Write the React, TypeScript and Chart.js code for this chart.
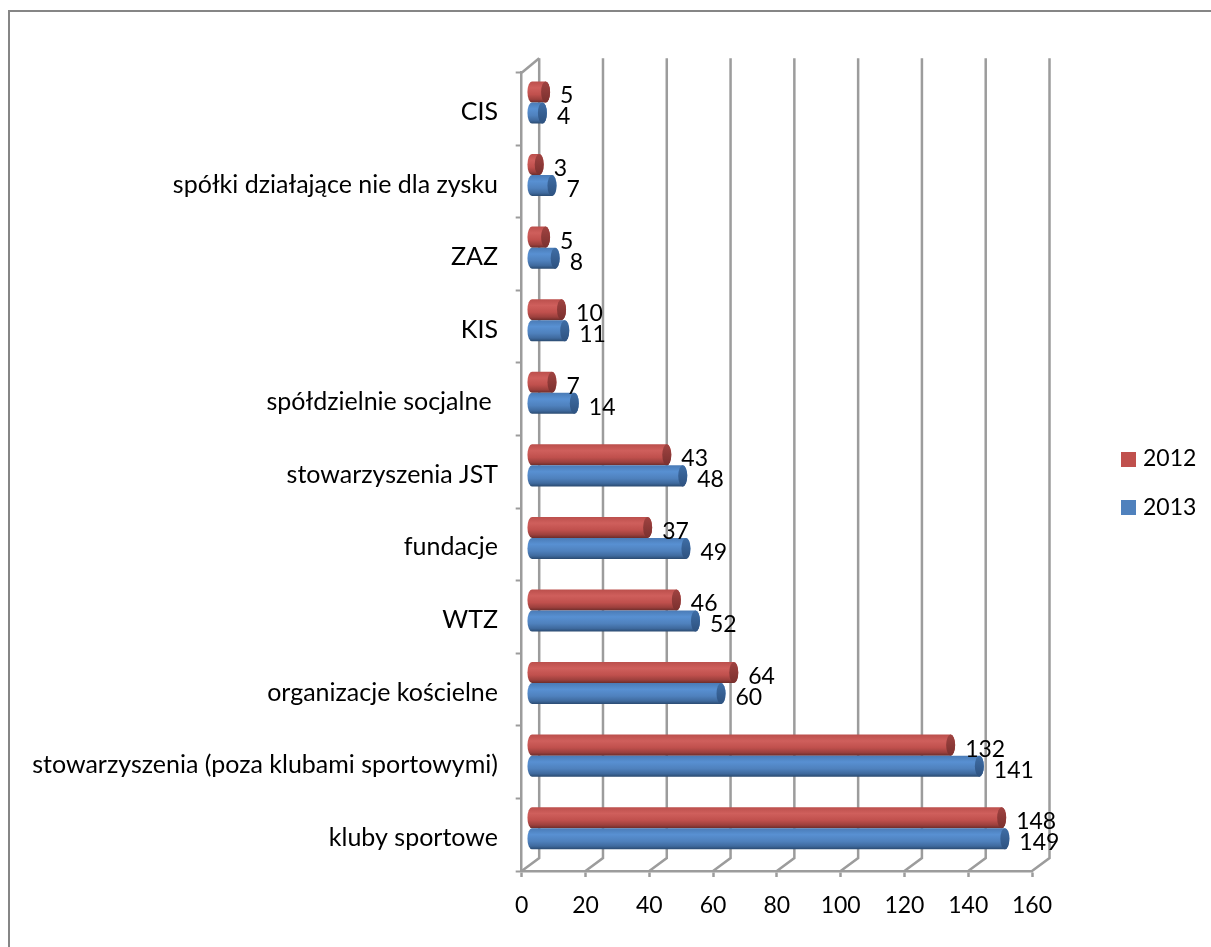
import React, { useEffect, useRef } from "react";
import { Chart, registerables } from "chart.js";

Chart.register(...registerables);

const categories = [
  "CIS",
  "spółki działające nie dla zysku",
  "ZAZ",
  "KIS",
  "spółdzielnie socjalne ",
  "stowarzyszenia JST",
  "fundacje",
  "WTZ",
  "organizacje kościelne",
  "stowarzyszenia (poza klubami sportowymi)",
  "kluby sportowe",
];
const values2012 = [5, 3, 5, 10, 7, 43, 37, 46, 64, 132, 148];
const values2013 = [4, 7, 8, 11, 14, 48, 49, 52, 60, 141, 149];

const FONT = "Lato, 'Noto Sans', sans-serif";
const FONT_SIZE = 23;
const LABEL_SIZE = 25;
const GRID = "#9c9c9c";
const DEPTH_X = 17.5;
const DEPTH_Y = 13;
const CAP_RX = 4.5;

const palette = [
  {
    main: "#c0504d",
    capTop: "#a04341",
    capBottom: "#7a302e",
    stops: [[0, "#bb4f4c"], [0.3, "#cf5f5c"], [0.62, "#c0504d"], [0.85, "#9c403d"], [1, "#6b2c2a"]],
  },
  {
    main: "#4f81bd",
    capTop: "#3f6ea6",
    capBottom: "#2e5280",
    stops: [[0, "#4a7bb6"], [0.3, "#5890d2"], [0.62, "#4f81bd"], [0.85, "#3f6a9e"], [1, "#2a4a70"]],
  },
];

function drawCylinder(ctx: CanvasRenderingContext2D, x0: number, x1: number, y: number, h: number, p: any) {
  const top = y - h / 2;
  const g = ctx.createLinearGradient(0, top, 0, top + h);
  p.stops.forEach((s: any) => g.addColorStop(s[0], s[1]));
  ctx.beginPath();
  ctx.ellipse(x0, y, CAP_RX, h / 2, 0, Math.PI / 2, (3 * Math.PI) / 2);
  ctx.lineTo(x1, top);
  ctx.ellipse(x1, y, CAP_RX, h / 2, 0, -Math.PI / 2, Math.PI / 2);
  ctx.closePath();
  ctx.fillStyle = g;
  ctx.fill();
  const c = ctx.createLinearGradient(0, top, 0, top + h);
  c.addColorStop(0, p.capTop);
  c.addColorStop(1, p.capBottom);
  ctx.beginPath();
  ctx.ellipse(x1, y, CAP_RX, h / 2, 0, 0, Math.PI * 2);
  ctx.fillStyle = c;
  ctx.fill();
}

const scene3d = {
  id: "scene3d",
  afterLayout(chart: any) {
    const l = chart.legend;
    const w = l.width;
    const h = l.height;
    l.left = 1100;
    l.right = l.left + w;
    l.top = 422;
    l.bottom = l.top + h;
  },
  beforeDatasetsDraw(chart: any) {
    const { ctx, chartArea: a, scales } = chart;
    const xs = scales.x;
    const endX = (el: any) => el.x + DEPTH_X / 2 - 0.8;
    ctx.save();
    ctx.strokeStyle = GRID;
    ctx.lineWidth = 2.5;
    xs.ticks.forEach((t: any) => {
      const x = xs.getPixelForValue(t.value);
      ctx.beginPath();
      ctx.moveTo(x, a.bottom);
      ctx.lineTo(x + DEPTH_X, a.bottom - DEPTH_Y);
      ctx.lineTo(x + DEPTH_X, a.top - DEPTH_Y - 1.5);
      ctx.stroke();
    });
    ctx.beginPath();
    ctx.moveTo(a.left, a.top);
    ctx.lineTo(a.left + DEPTH_X, a.top - DEPTH_Y - 1.5);
    ctx.stroke();

    [0, 1].forEach((i) => {
      const meta = chart.getDatasetMeta(i);
      meta.data.forEach((el: any) => {
        drawCylinder(ctx, el.base + DEPTH_X / 2 + 1, endX(el), el.y - DEPTH_Y / 2, el.height, palette[i]);
      });
    });
    ctx.fillStyle = "#000";
    ctx.font = `${FONT_SIZE}px ${FONT}`;
    ctx.textAlign = "left";
    ctx.textBaseline = "middle";
    [0, 1].forEach((i) => {
      const meta = chart.getDatasetMeta(i);
      meta.data.forEach((el: any, j: number) => {
        ctx.fillText(String(chart.data.datasets[i].data[j]), endX(el) + CAP_RX + 10, el.y - DEPTH_Y / 2 + 4);
      });
    });
    ctx.restore();
    return false;
  },
};

function swatch(color: string) {
  const c = document.createElement("canvas");
  c.width = 15;
  c.height = 15;
  const g = c.getContext("2d")!;
  g.fillStyle = color;
  g.fillRect(0, 0, 15, 15);
  return c;
}

export default function App() {
  const ref = useRef<HTMLCanvasElement>(null);
  useEffect(() => {
    const chart = new Chart(ref.current!, {
      type: "bar",
      data: {
        labels: categories,
        datasets: [
          { label: "2012", data: values2012, backgroundColor: palette[0].main, categoryPercentage: 0.58, barPercentage: 1 },
          { label: "2013", data: values2013, backgroundColor: palette[1].main, categoryPercentage: 0.58, barPercentage: 1 },
        ],
      },
      plugins: [scene3d],
      options: {
        indexAxis: "y",
        responsive: false,
        animation: false,
        events: [],
        layout: { padding: { left: 0, top: 72.7, right: 179, bottom: 0 } },
        font: { family: FONT, size: FONT_SIZE },
        plugins: {
          title: { display: false },
          tooltip: { enabled: false },
          legend: {
            display: true,
            position: "chartArea",
            align: "start",
            labels: {
              usePointStyle: true,
              boxWidth: 6,
              boxHeight: 15,
              padding: 25.5,
              color: "#000",
              font: { family: FONT, size: FONT_SIZE },
              generateLabels: (c: any) =>
                c.data.datasets.map((d: any, i: number) => ({
                  text: d.label,
                  fillStyle: d.backgroundColor,
                  strokeStyle: d.backgroundColor,
                  lineWidth: 0,
                  pointStyle: swatch(d.backgroundColor),
                  datasetIndex: i,
                })),
            },
          },
        },
        scales: {
          x: {
            type: "linear",
            min: 0,
            max: 160,
            afterFit: (s: any) => {
              s.height = 76;
            },
            ticks: {
              stepSize: 20,
              color: "#000",
              padding: 15,
              maxRotation: 0,
              font: { family: FONT, size: FONT_SIZE },
            },
            grid: { drawOnChartArea: false, tickLength: 6, tickWidth: 2.5, tickColor: GRID },
            border: { display: true, color: GRID, width: 2.5 },
          },
          y: {
            type: "category",
            afterFit: (s: any) => {
              s.width = 521.7;
            },
            ticks: {
              color: "#000",
              padding: 17.7,
              labelOffset: 3,
              autoSkip: false,
              font: { family: FONT, size: LABEL_SIZE },
            },
            grid: { offset: true, drawOnChartArea: false, tickLength: 6, tickWidth: 2, tickColor: GRID },
            border: { display: true, color: GRID, width: 2.5 },
          },
        },
      } as any,
    });
    return () => chart.destroy();
  }, []);
  return (
    <div style={{ position: "absolute", left: 0, top: 0, width: 1211, height: 947, overflow: "hidden", background: "#fff" }}>
      <div
        style={{
          position: "absolute",
          left: 8,
          top: 10,
          width: 1203,
          height: 937,
          boxSizing: "border-box",
          borderLeft: "2px solid #868686",
          borderTop: "2px solid #868686",
        }}
      />
      <canvas ref={ref} width={1211} height={947} style={{ position: "absolute", left: 0, top: 0, display: "block" }} />
    </div>
  );
}
